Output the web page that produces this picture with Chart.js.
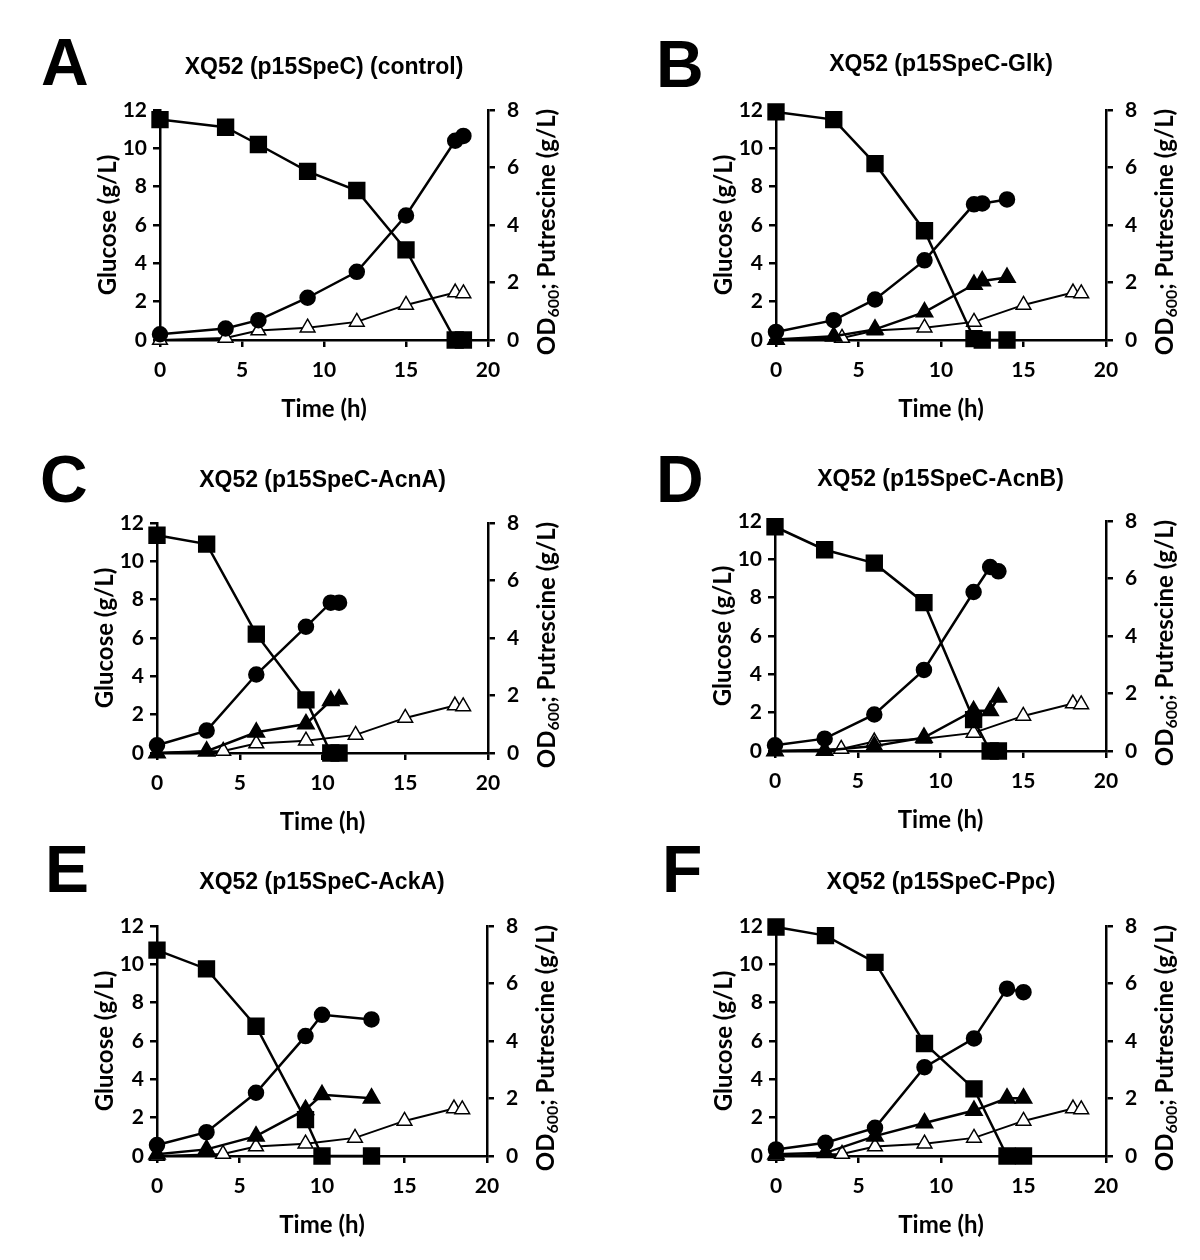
<!DOCTYPE html>
<html>
<head>
<meta charset="utf-8">
<script src="https://cdn.jsdelivr.net/npm/chart.js@4.4.1/dist/chart.umd.min.js"></script>
<style>
  html, body { margin: 0; padding: 0; background: #fff; overflow: hidden; }
  body { width: 1200px; height: 1260px; position: relative; }
  .panel { position: absolute; }
  .letter {
    position: absolute;
    font-family: "Liberation Sans", Arial, sans-serif;
    font-weight: bold;
    font-size: 66px;
    line-height: 66px;
    color: #000;
  }
</style>
</head>
<body>
<script>
// control putrescine (open triangles), same in every panel
const ctrlTime = [0, 4, 6, 9, 12, 15, 18, 18.5];
const ctrlPut = [0, 0.07, 0.33, 0.43, 0.63, 1.22, 1.65, 1.62];

// A: control
const timeA = [0, 4, 6, 9, 12, 15, 18, 18.5];
const glucoseA = [11.5, 11.1, 10.2, 8.8, 7.8, 4.7, 0, 0];
const odA = [0.2, 0.4, 0.69, 1.47, 2.37, 4.33, 6.93, 7.1];
const putA = [];

// B: Glk
const timeB = [0, 3.5, 6, 9, 12, 12.5, 14];
const glucoseB = [11.9, 11.5, 9.2, 5.7, 0.07, 0, 0];
const odB = [0.28, 0.69, 1.41, 2.77, 4.72, 4.75, 4.89];
const putB = [0.02, 0.13, 0.37, 0.97, 1.93, 2.05, 2.17];

// C: AcnA
const timeC = [0, 3, 6, 9, 10.5, 11];
const glucoseC = [11.36, 10.9, 6.2, 2.77, 0, 0];
const odC = [0.27, 0.78, 2.73, 4.39, 5.23, 5.23];
const putC = [0, 0.06, 0.72, 1.01, 1.82, 1.87];

// D: AcnB
const timeD = [0, 3, 6, 9, 12, 13, 13.5];
const glucoseD = [11.7, 10.5, 9.8, 7.74, 1.64, 0, 0];
const odD = [0.2, 0.43, 1.27, 2.82, 5.53, 6.4, 6.25];
const putD = [0, 0.02, 0.17, 0.47, 1.4, 1.4, 1.87];

// E: AckA
const timeE = [0, 3, 6, 9, 10, 13];
const glucoseE = [10.74, 9.76, 6.77, 1.9, 0, 0];
const odE = [0.38, 0.83, 2.2, 4.17, 4.91, 4.75];
const putE = [0.06, 0.23, 0.69, 1.61, 2.13, 2.01];

// F: Ppc
const timeF = [0, 3, 6, 9, 12, 14, 15];
const glucoseF = [11.95, 11.5, 10.1, 5.87, 3.5, 0, 0];
const odF = [0.23, 0.46, 0.98, 3.09, 4.09, 5.82, 5.7];
const putF = [0.06, 0.11, 0.69, 1.15, 1.58, 2.01, 2.01];

const xTicks = [0, 5, 10, 15, 20];
const glucoseTicks = [0, 2, 4, 6, 8, 10, 12];
const rightTicks = [0, 2, 4, 6, 8];

const panels = [
  { letter: 'A', title: 'XQ52 (p15SpeC) (control)', time: timeA, glc: glucoseA, od: odA, put: putA,
    left: 0, top: 0, width: 600, plotL: 160, plotR: 488, titleTop: 54, letterX: 41, letterY: 29 },
  { letter: 'B', title: 'XQ52 (p15SpeC-Glk)', time: timeB, glc: glucoseB, od: odB, put: putB,
    left: 616, top: 0, width: 584, plotL: 160, plotR: 490, titleTop: 51, letterX: 656, letterY: 31 },
  { letter: 'C', title: 'XQ52 (p15SpeC-AcnA)', time: timeC, glc: glucoseC, od: odC, put: putC,
    left: 0, top: 413, width: 600, plotL: 157, plotR: 488, titleTop: 54, letterX: 40, letterY: 446 },
  { letter: 'D', title: 'XQ52 (p15SpeC-AcnB)', time: timeD, glc: glucoseD, od: odD, put: putD,
    left: 616, top: 411, width: 584, plotL: 159, plotR: 490, titleTop: 55, letterX: 656, letterY: 446 },
  { letter: 'E', title: 'XQ52 (p15SpeC-AckA)', time: timeE, glc: glucoseE, od: odE, put: putE,
    left: 0, top: 816, width: 600, plotL: 157, plotR: 487, titleTop: 53, letterX: 45, letterY: 836 },
  { letter: 'F', title: 'XQ52 (p15SpeC-Ppc)', time: timeF, glc: glucoseF, od: odF, put: putF,
    left: 616, top: 816, width: 584, plotL: 160, plotR: 490, titleTop: 53, letterX: 662, letterY: 836 }
];

const tickFont = { family: 'Lato, "Open Sans", sans-serif', size: 21, weight: 'bold' };
const axisFont = { family: 'Lato, "Open Sans", sans-serif', size: 24, weight: 'bold' };
const titleSize = 23;

function pts(xs, ys) {
  return ys.map((y, i) => ({ x: xs[i], y: y }));
}

// right axis title with a real subscript
const rightTitle = {
  id: 'rightTitle',
  afterDraw(chart) {
    const { ctx, chartArea } = chart;
    const x = chartArea.right + 59;
    const y = (chartArea.top + chartArea.bottom) / 2 + 7;
    const big = 'bold 24px Lato, "Open Sans", sans-serif';
    const small = 'bold 16px Lato, "Open Sans", sans-serif';
    ctx.save();
    ctx.translate(x, y);
    ctx.rotate(-Math.PI / 2);
    ctx.font = big;
    const w1 = ctx.measureText('OD').width;
    const w3 = ctx.measureText('; Putrescine (g/L)').width;
    ctx.font = small;
    const w2 = ctx.measureText('600').width;
    let cx = -(w1 + w2 + w3) / 2;
    ctx.fillStyle = '#000';
    ctx.textBaseline = 'middle';
    ctx.font = big;
    ctx.fillText('OD', cx, 0);
    cx += w1;
    ctx.font = small;
    ctx.fillText('600', cx, 7);
    cx += w2;
    ctx.font = big;
    ctx.fillText('; Putrescine (g/L)', cx, 0);
    ctx.restore();
  }
};

function axisGrid() {
  return { drawOnChartArea: false, drawTicks: true, tickLength: 7, color: '#000', lineWidth: 2.5 };
}

function makePanel(p) {
  const letter = document.createElement('div');
  letter.className = 'letter';
  letter.textContent = p.letter;
  letter.style.left = p.letterX + 'px';
  letter.style.top = p.letterY + 'px';
  document.body.appendChild(letter);

  const wrap = document.createElement('div');
  wrap.className = 'panel';
  wrap.style.left = p.left + 'px';
  wrap.style.top = p.top + 'px';
  const canvas = document.createElement('canvas');
  canvas.width = p.width;
  canvas.height = 424;
  canvas.style.width = p.width + 'px';
  canvas.style.height = '424px';
  wrap.appendChild(canvas);
  document.body.appendChild(wrap);

  const datasets = [
    {
      label: 'Glucose', data: pts(p.time, p.glc), yAxisID: 'y',
      borderColor: '#000', borderWidth: 2.5, pointStyle: 'rect', pointRadius: 10.5,
      pointBackgroundColor: '#000', pointBorderColor: '#000', clip: false
    },
    {
      label: 'OD600', data: pts(p.time, p.od), yAxisID: 'y1',
      borderColor: '#000', borderWidth: 2.5, pointStyle: 'circle', pointRadius: 7,
      pointBackgroundColor: '#000', pointBorderColor: '#000', clip: false
    }
  ];
  if (p.put.length) {
    datasets.push({
      label: 'Putrescine', data: pts(p.time, p.put), yAxisID: 'y1',
      borderColor: '#000', borderWidth: 2.5, pointStyle: 'triangle', pointRadius: 8.5,
      pointBackgroundColor: '#000', pointBorderColor: '#000', clip: false
    });
  }
  datasets.push({
    label: 'Putrescine (control)', data: pts(ctrlTime, ctrlPut), yAxisID: 'y1',
    borderColor: '#000', borderWidth: 2, pointStyle: 'triangle', pointRadius: 8.5,
    pointBackgroundColor: '#fff', pointBorderColor: '#000', pointBorderWidth: 1.5, clip: false
  });

  const titleLine = titleSize * 1.2;
  new Chart(canvas, {
    type: 'line',
    data: { datasets: datasets },
    plugins: [rightTitle],
    options: {
      responsive: false,
      animation: false,
      layout: { padding: { left: p.plotL - 66, right: p.width - p.plotR - 72, top: 0, bottom: 0 } },
      plugins: {
        legend: { display: false },
        tooltip: { enabled: false },
        title: {
          display: true,
          text: p.title,
          fullSize: false,
          color: '#000',
          font: { family: '"Liberation Sans", Arial, sans-serif', size: titleSize, weight: 'bold' },
          padding: { top: p.titleTop, bottom: 110 - p.titleTop - titleLine }
        }
      },
      scales: {
        x: {
          type: 'linear', min: 0, max: 20,
          afterBuildTicks: s => { s.ticks = xTicks.map(v => ({ value: v })); },
          ticks: { font: tickFont, color: '#000', padding: 11, maxRotation: 0 },
          grid: axisGrid(),
          border: { color: '#000', width: 2.5 },
          title: { display: true, text: 'Time (h)', font: axisFont, color: '#000', padding: 0 },
          afterFit: s => { s.height = 84; }
        },
        y: {
          position: 'left', min: 0, max: 12,
          afterBuildTicks: s => { s.ticks = glucoseTicks.map(v => ({ value: v })); },
          ticks: { font: tickFont, color: '#000', padding: 6 },
          grid: axisGrid(),
          border: { color: '#000', width: 2.5 },
          title: { display: true, text: 'Glucose (g/L)', font: axisFont, color: '#000', padding: 0 },
          afterFit: s => { s.width = 66; }
        },
        y1: {
          position: 'right', min: 0, max: 8,
          afterBuildTicks: s => { s.ticks = rightTicks.map(v => ({ value: v })); },
          ticks: { font: tickFont, color: '#000', padding: 12 },
          grid: axisGrid(),
          border: { color: '#000', width: 2.5 },
          title: { display: false },
          afterFit: s => { s.width = 72; }
        }
      }
    }
  });
}

panels.forEach(makePanel);
</script>
</body>
</html>
